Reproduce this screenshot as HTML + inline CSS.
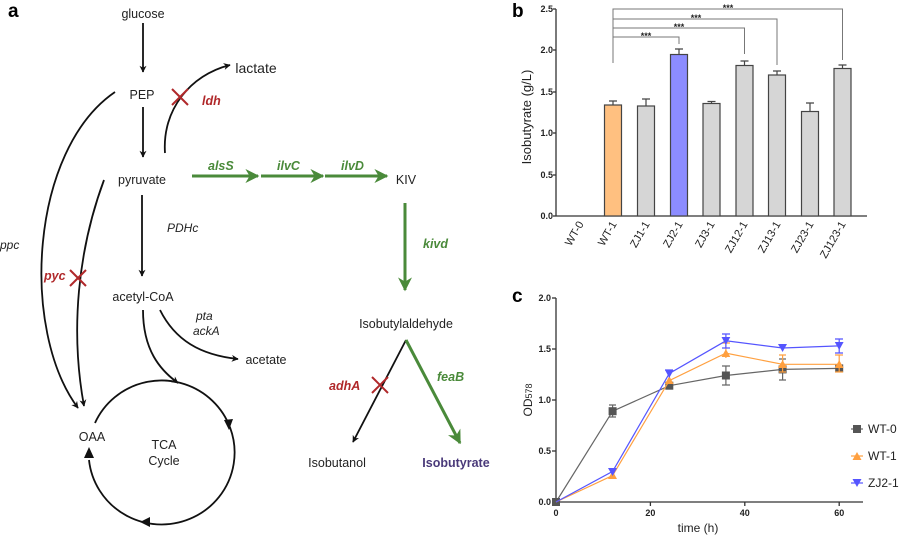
<!DOCTYPE html>
<html><head><meta charset="utf-8"><style>
html,body{margin:0;padding:0;background:#fff;}
svg{display:block;font-family:"Liberation Sans",Arial,sans-serif;}
</style></head><body>
<svg width="900" height="537" viewBox="0 0 900 537" xmlns="http://www.w3.org/2000/svg">
<defs>
<marker id="ab" viewBox="0 0 10 10" refX="9" refY="5" markerWidth="7" markerHeight="7" orient="auto" markerUnits="userSpaceOnUse"><path d="M0,0 L10,5 L0,10 L3,5 z" fill="#111"/></marker>
<marker id="ag" viewBox="0 0 10 10" refX="9" refY="5" markerWidth="14" markerHeight="14" orient="auto" markerUnits="userSpaceOnUse"><path d="M0,0 L10,5 L0,10 L3,5 z" fill="#4a8a3a"/></marker>
</defs>
<!-- Panel a -->
<text x="8" y="17" font-size="19" font-weight="bold">a</text>
<g font-size="12.5" fill="#222" text-anchor="middle">
<text x="143" y="18">glucose</text>
<text x="142" y="99">PEP</text>
<text x="142" y="184">pyruvate</text>
<text x="143" y="301">acetyl-CoA</text>
<text x="256" y="73" font-size="14">lactate</text>
<text x="406" y="184">KIV</text>
<text x="406" y="328">Isobutylaldehyde</text>
<text x="337" y="467">Isobutanol</text>
<text x="456" y="467" fill="#4a3a7a" font-weight="bold">Isobutyrate</text>
<text x="266" y="364">acetate</text>
<text x="92" y="441">OAA</text>
<text x="164" y="449">TCA</text>
<text x="164" y="465">Cycle</text>
</g>
<g font-size="12" font-style="italic" fill="#222">
<text x="167" y="232">PDHc</text>
<text x="0" y="249">ppc</text>
<text x="196" y="320">pta</text>
<text x="193" y="335">ackA</text>
</g>
<g font-size="12.5" font-style="italic" font-weight="bold" fill="#b0282a">
<text x="202" y="105">ldh</text>
<text x="44" y="280">pyc</text>
<text x="329" y="390">adhA</text>
</g>
<g font-size="12.5" font-style="italic" font-weight="bold" fill="#4a8a3a">
<text x="208" y="170">alsS</text>
<text x="277" y="170">ilvC</text>
<text x="341" y="170">ilvD</text>
<text x="423" y="248">kivd</text>
<text x="437" y="381">feaB</text>
</g>
<g stroke="#111" stroke-width="1.8" fill="none" marker-end="url(#ab)">
<line x1="143" y1="23" x2="143" y2="72"/>
<line x1="143" y1="107" x2="143" y2="157"/>
<line x1="142" y1="195" x2="142" y2="276"/>
<path d="M165,153 C162,110 190,75 230,65"/>
<path d="M115,92 C30,150 20,330 78,408"/>
<path d="M104,180 C78,250 70,330 84,406"/>
<path d="M160,310 C175,340 200,355 238,359"/>
<path d="M143,310 C143,350 160,370 178,383"/>
<line x1="406" y1="340" x2="353" y2="442"/>
<path d="M95,423 A73,72 0 1 1 89,460" marker-end="none"/>
</g>
<g fill="#111">
<path d="M89,447 L84,458 L94,458 z"/>
<path d="M140,522 L150,517 L150,527 z"/>
<path d="M229,430 L224,420 L233,419 z"/>
</g>
<g stroke="#4a8a3a" stroke-width="3" fill="none" marker-end="url(#ag)">
<line x1="192" y1="176" x2="258" y2="176"/>
<line x1="261" y1="176" x2="323" y2="176"/>
<line x1="325" y1="176" x2="387" y2="176"/>
<line x1="405" y1="203" x2="405" y2="290"/>
<line x1="406" y1="340" x2="460" y2="443"/>
</g>
<g stroke="#b0282a" stroke-width="2">
<line x1="172" y1="89" x2="188" y2="105"/><line x1="188" y1="89" x2="172" y2="105"/>
<line x1="70" y1="270" x2="86" y2="286"/><line x1="86" y1="270" x2="70" y2="286"/>
<line x1="372" y1="377" x2="388" y2="393"/><line x1="388" y1="377" x2="372" y2="393"/>
</g>

<!-- Panel b -->
<text x="512" y="17" font-size="19" font-weight="bold">b</text>
<g stroke="#333" stroke-width="1.3" fill="none">
<line x1="556" y1="9" x2="556" y2="216"/>
<line x1="556" y1="216" x2="867" y2="216"/>
<line x1="553" y1="9" x2="556" y2="9"/><line x1="553" y1="50" x2="556" y2="50"/><line x1="553" y1="92" x2="556" y2="92"/><line x1="553" y1="133" x2="556" y2="133"/><line x1="553" y1="175" x2="556" y2="175"/><line x1="553" y1="216" x2="556" y2="216"/>
</g>
<g font-size="9" font-weight="bold" text-anchor="end" fill="#222">
<text x="553" y="12">2.5</text><text x="553" y="53">2.0</text><text x="553" y="95">1.5</text><text x="553" y="136">1.0</text><text x="553" y="178">0.5</text><text x="553" y="219">0.0</text>
</g>
<text transform="translate(531,117) rotate(-90)" font-size="13" text-anchor="middle" fill="#222">Isobutyrate (g/L)</text>
<g stroke="#444" stroke-width="1.2">
<rect x="604.5" y="105" width="17" height="111" fill="#ffc080"/>
<rect x="637.5" y="106" width="17" height="110" fill="#d6d6d6"/>
<rect x="670.5" y="54.5" width="17" height="161.5" fill="#8c8cff"/>
<rect x="703" y="103.5" width="17" height="112.5" fill="#d6d6d6"/>
<rect x="736" y="65.5" width="17" height="150.5" fill="#d6d6d6"/>
<rect x="768.5" y="75" width="17" height="141" fill="#d6d6d6"/>
<rect x="801.5" y="111.5" width="17" height="104.5" fill="#d6d6d6"/>
<rect x="834" y="68.5" width="17" height="147.5" fill="#d6d6d6"/>
</g>
<g stroke="#444" stroke-width="1.2" fill="none">
<path d="M613,105 V101 M609,101 H617"/>
<path d="M646,106 V99 M642,99 H650"/>
<path d="M679,54 V49 M675,49 H683"/>
<path d="M711.5,103 V101.5 M707.5,101.5 H715.5"/>
<path d="M744.5,65 V61 M740.5,61 H748.5"/>
<path d="M777,75 V71 M773,71 H781"/>
<path d="M810,111 V103 M806,103 H814"/>
<path d="M842.5,68 V65 M838.5,65 H846.5"/>
</g>
<g stroke="#777" stroke-width="1" fill="none">
<path d="M613,63 V9 H842.5 V60"/>
<path d="M613,19 H777 V65"/>
<path d="M613,28 H744.5 V54"/>
<path d="M613,37 H679 V44"/>
</g>
<g font-size="9" font-weight="bold" text-anchor="middle" fill="#222">
<text x="728" y="11">***</text><text x="696" y="21">***</text><text x="679" y="30">***</text><text x="646" y="39">***</text>
</g>
<g font-size="11" fill="#222" text-anchor="end">
<text transform="translate(584,224) rotate(-60)">WT-0</text>
<text transform="translate(617,224) rotate(-60)">WT-1</text>
<text transform="translate(650,224) rotate(-60)">ZJ1-1</text>
<text transform="translate(683,224) rotate(-60)">ZJ2-1</text>
<text transform="translate(715,224) rotate(-60)">ZJ3-1</text>
<text transform="translate(748,224) rotate(-60)">ZJ12-1</text>
<text transform="translate(781,224) rotate(-60)">ZJ13-1</text>
<text transform="translate(814,224) rotate(-60)">ZJ23-1</text>
<text transform="translate(846,224) rotate(-60)">ZJ123-1</text>
</g>

<!-- Panel c -->
<text x="512" y="302" font-size="19" font-weight="bold">c</text>
<g stroke="#333" stroke-width="1.3" fill="none">
<line x1="556" y1="298" x2="556" y2="502"/>
<line x1="556" y1="502" x2="863" y2="502"/>
<line x1="552" y1="298" x2="556" y2="298"/><line x1="552" y1="349" x2="556" y2="349"/><line x1="552" y1="400" x2="556" y2="400"/><line x1="552" y1="451" x2="556" y2="451"/><line x1="552" y1="502" x2="556" y2="502"/>
<line x1="556" y1="502" x2="556" y2="506"/><line x1="650.4" y1="502" x2="650.4" y2="506"/><line x1="744.8" y1="502" x2="744.8" y2="506"/><line x1="839.2" y1="502" x2="839.2" y2="506"/>
</g>
<g font-size="9" font-weight="bold" text-anchor="end" fill="#222">
<text x="551" y="301">2.0</text><text x="551" y="352">1.5</text><text x="551" y="403">1.0</text><text x="551" y="454">0.5</text><text x="551" y="505">0.0</text>
</g>
<g font-size="9" font-weight="bold" text-anchor="middle" fill="#222">
<text x="556" y="516">0</text><text x="650.4" y="516">20</text><text x="744.8" y="516">40</text><text x="839.2" y="516">60</text>
</g>
<text x="698" y="532" font-size="12" text-anchor="middle" fill="#222">time (h)</text>
<text transform="translate(532,400) rotate(-90)" font-size="12" text-anchor="middle" fill="#222">OD<tspan font-size="9">578</tspan></text>
<g stroke="#666" stroke-width="1.2" fill="none">
<polyline points="556,502 612.6,411.2 669.3,385.7 725.9,375.5 782.6,369.4 839.2,368.4"/>
<path d="M612.6,405 V417 M609,405 H616 M609,417 H616"/>
<path d="M725.9,366 V385 M722,366 H730 M722,385 H730"/>
<path d="M782.6,359 V380 M779,359 H786 M779,380 H786"/>
</g>
<g fill="#555">
<rect x="552" y="498" width="8" height="8"/><rect x="608.6" y="407.2" width="8" height="8"/><rect x="665.3" y="381.7" width="8" height="8"/><rect x="721.9" y="371.5" width="8" height="8"/><rect x="778.6" y="365.4" width="8" height="8"/><rect x="835.2" y="364.4" width="8" height="8"/>
</g>
<g stroke="#ffa040" stroke-width="1.2" fill="none">
<polyline points="556,502 612.6,475.5 669.3,380.6 725.9,353.1 782.6,364.3 839.2,364.3"/>
<path d="M725.9,343 V358 M722,343 H730"/>
<path d="M782.6,355 V372 M779,355 H786 M779,372 H786"/>
<path d="M839.2,355 V372 M835,355 H843 M835,372 H843"/>
</g>
<g fill="#ffa040">
<path d="M612.6,471 L617,479 L608,479 z"/><path d="M669.3,376 L673.6,384 L665,384 z"/><path d="M725.9,349 L730.3,357 L721.5,357 z"/><path d="M782.6,360 L787,368 L778,368 z"/><path d="M839.2,360 L843.6,368 L834.8,368 z"/>
</g>
<g stroke="#5555ff" stroke-width="1.2" fill="none">
<polyline points="556,502 612.6,471.4 669.3,373.5 725.9,340.8 782.6,348 839.2,345.9"/>
<path d="M725.9,334 V348 M722,334 H730 M722,348 H730"/>
<path d="M839.2,339 V353 M835,339 H843 M835,353 H843"/>
<path d="M669.3,370 V377 M665,370 H673"/>
</g>
<g fill="#5555ff">
<path d="M612.6,476 L617,468 L608,468 z"/><path d="M669.3,378 L673.6,370 L665,370 z"/><path d="M725.9,345 L730.3,337 L721.5,337 z"/><path d="M782.6,352 L787,344 L778,344 z"/><path d="M839.2,350 L843.6,342 L834.8,342 z"/>
</g>
<g font-size="12" fill="#222">
<line x1="851" y1="429" x2="863" y2="429" stroke="#666" stroke-width="1.2"/><rect x="853" y="425" width="8" height="8" fill="#555"/><text x="868" y="433">WT-0</text>
<line x1="851" y1="456" x2="863" y2="456" stroke="#ffa040" stroke-width="1.2"/><path d="M857,452 L861.5,460 L852.5,460 z" fill="#ffa040"/><text x="868" y="460">WT-1</text>
<line x1="851" y1="483" x2="863" y2="483" stroke="#5555ff" stroke-width="1.2"/><path d="M857,487 L861.5,479 L852.5,479 z" fill="#5555ff"/><text x="868" y="487">ZJ2-1</text>
</g>
</svg>
</body></html>
